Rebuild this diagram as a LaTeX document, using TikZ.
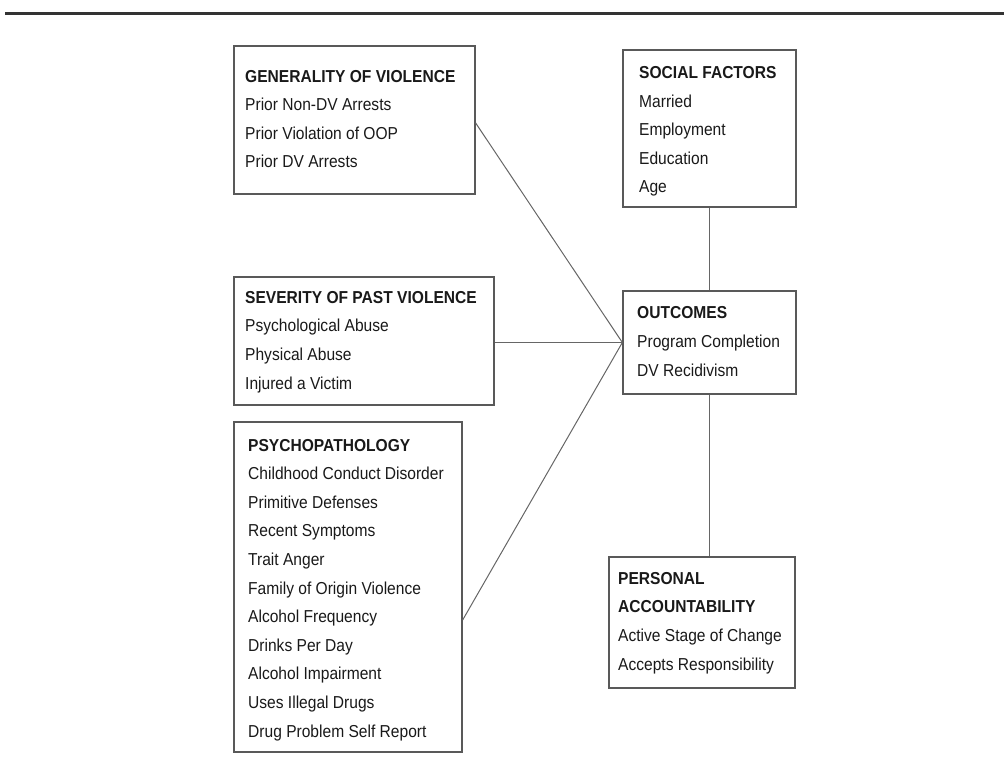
\documentclass[tikz,border=0pt]{standalone}
\usepackage{fontspec}
\setmainfont{Liberation Sans}[FakeStretch=0.9]
\begin{document}
\begin{tikzpicture}[x=1pt,y=-1pt,
  box/.style={draw=black!65, line width=1.3pt, fill=none},
  link/.style={draw=black!60, line width=1pt},
  lbl/.style={anchor=base west, inner sep=0pt, align=left, text=black!90,
    font=\fontsize{17.3}{28.6}\selectfont}]
\useasboundingbox (0,0) rectangle (1004,767);
\draw[line width=3pt, black!80] (5,13.5) -- (1004,13.5);
% boxes
\node[box, minimum width=241pt, minimum height=148pt, inner sep=0pt] (gen) at (354.5,120) {};
\node[box, minimum width=173pt, minimum height=157pt, inner sep=0pt] (soc) at (709.5,128.5) {};
\node[box, minimum width=260pt, minimum height=128pt, inner sep=0pt] (sev) at (364,341) {};
\node[box, minimum width=173pt, minimum height=103pt, inner sep=0pt] (out) at (709.5,342.5) {};
\node[box, minimum width=228pt, minimum height=330pt, inner sep=0pt] (psy) at (348,587) {};
\node[box, minimum width=186pt, minimum height=131pt, inner sep=0pt] (per) at (702,622.5) {};
% texts (anchored at the baseline of the last line)
\node[lbl] (gent) at (245,168) {{\bfseries GENERALITY OF VIOLENCE}\\Prior Non-DV Arrests\\Prior Violation of OOP\\Prior DV Arrests};
\node[lbl] (soct) at (639,193) {{\bfseries SOCIAL FACTORS}\\Married\\Employment\\Education\\Age};
\node[lbl] (sevt) at (245,389) {{\bfseries SEVERITY OF PAST VIOLENCE}\\Psychological Abuse\\Physical Abuse\\Injured a Victim};
\node[lbl] (outt) at (637,376) {{\bfseries OUTCOMES}\\Program Completion\\DV Recidivism};
\node[lbl] (psyt) at (248,737) {{\bfseries PSYCHOPATHOLOGY}\\Childhood Conduct Disorder\\Primitive Defenses\\Recent Symptoms\\Trait Anger\\Family of Origin Violence\\Alcohol Frequency\\Drinks Per Day\\Alcohol Impairment\\Uses Illegal Drugs\\Drug Problem Self Report};
\node[lbl] (pert) at (618,670) {{\bfseries PERSONAL}\\{\bfseries ACCOUNTABILITY}\\Active Stage of Change\\Accepts Responsibility};
% connectors
\coordinate (conv) at (out.west);
\draw[link] (gen.east |- 0,123) -- (conv);
\draw[link] (sev.east |- conv) -- (conv);
\draw[link] (psy.east |- 0,620) -- (conv);
\draw[link] (soc.south) -- (out.north);
\draw[link] (out.south) -- (out.south |- per.north);
\end{tikzpicture}
\end{document}
